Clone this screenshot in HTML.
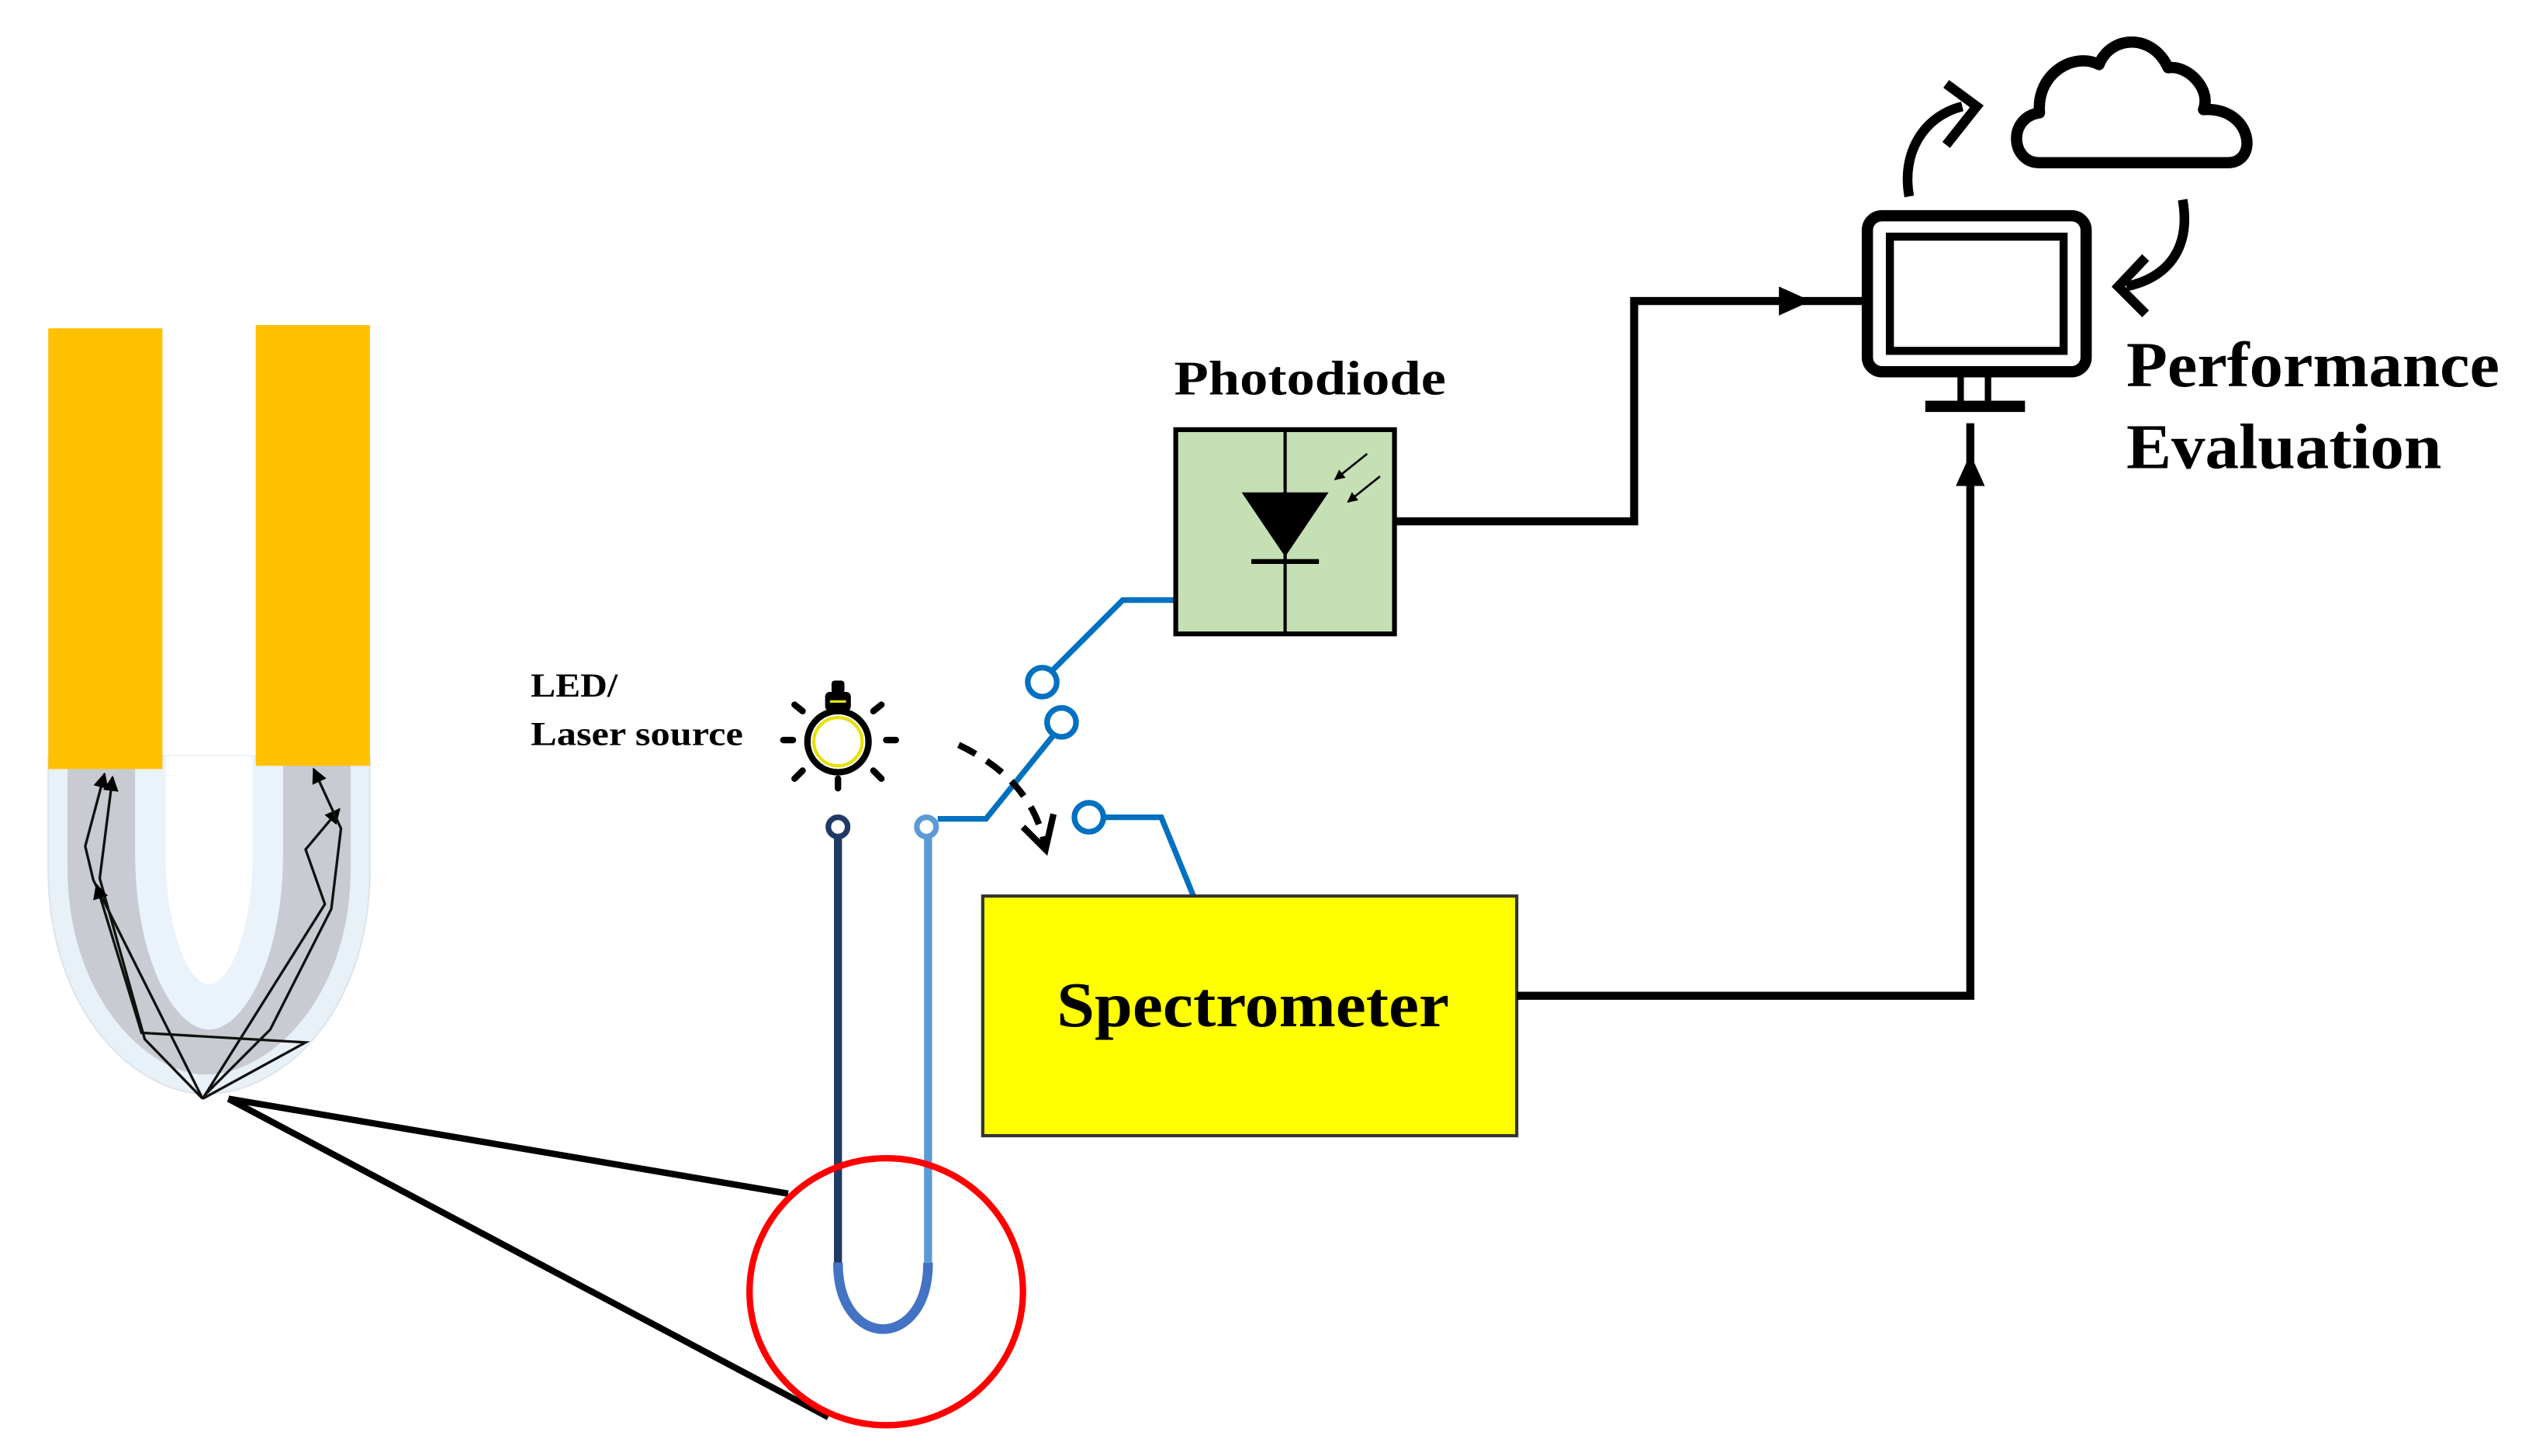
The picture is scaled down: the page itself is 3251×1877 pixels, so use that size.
<!DOCTYPE html>
<html><head><meta charset="utf-8"><style>html,body{margin:0;padding:0;background:#fff}svg{display:block}</style></head>
<body>
<svg width="3251" height="1877" viewBox="0 0 1568 905" xmlns="http://www.w3.org/2000/svg" font-family="Liberation Serif, serif" font-weight="bold">
<defs>
<marker id="a" viewBox="0 0 10 10" refX="9" refY="5" markerWidth="5" markerHeight="5" orient="auto"><path d="M0,0 L10,5 L0,10 z" fill="#000"/></marker>
<marker id="s" viewBox="0 0 10 10" refX="9" refY="5" markerWidth="6" markerHeight="6" orient="auto"><path d="M0,0 L10,5 L0,10 z" fill="#000"/></marker>
</defs>
<!-- U fiber: nested layers -->
<path d="M30,470 L30,540 C30,630 85,680 128,680 C175,680 230,630 230,540 L230,470 Z" fill="#e8f0f8" stroke="#dde4ec"/>
<path d="M42,470 L42,540 C42,620 92,668 128,668 C168,668 218,620 218,540 L218,470 Z" fill="#c8ccd2"/>
<path d="M84,470 L84,530 C84,595 108,640 130,640 C152,640 176,595 176,530 L176,470 Z" fill="#eaf3fc"/>
<path d="M103,470 L103,530 C103,580 118,612 130,612 C142,612 157,580 157,530 L157,470 Z" fill="#ffffff"/>
<rect x="30" y="204" width="71" height="274" fill="#ffc000"/>
<rect x="159" y="202" width="71" height="274" fill="#ffc000"/>
<g stroke="#111" stroke-width="1.6" fill="none" marker-end="url(#s)">
<polyline points="126,683 90,646 62,546 70,483"/>
<polyline points="126,683 58,547 53,526 65,481"/>
<polyline points="126,683 190,648 88,642 60,550"/>
<polyline points="126,683 202,562 190,528 211,503"/>
<polyline points="128,680 168,640 206,565 212,515 195,478"/>
</g>
<!-- zoom lines -->
<line x1="142" y1="683" x2="490" y2="742" stroke="#000" stroke-width="4"/>
<line x1="142" y1="683" x2="515" y2="881" stroke="#000" stroke-width="4"/>
<!-- fiber -->
<line x1="521" y1="520" x2="521" y2="785" stroke="#1f3a66" stroke-width="5"/>
<line x1="577" y1="520" x2="577" y2="785" stroke="#5b9bd5" stroke-width="5"/>
<path d="M521,785 C521,840 577,840 577,785" fill="none" stroke="#4472c4" stroke-width="6"/>
<circle cx="521" cy="514" r="6" fill="#fff" stroke="#1f3a66" stroke-width="3.5"/>
<circle cx="576" cy="514" r="6" fill="#fff" stroke="#5b9bd5" stroke-width="3.5"/>
<ellipse cx="551" cy="803" rx="85" ry="83" fill="none" stroke="#ff0000" stroke-width="4"/>
<!-- LED -->
<g stroke="#000" stroke-width="4" stroke-linecap="round">
<line x1="487" y1="460" x2="493" y2="460"/><line x1="551" y1="460" x2="557" y2="460"/>
<line x1="494" y1="438" x2="499" y2="442"/><line x1="548" y1="438" x2="543" y2="442"/>
<line x1="494" y1="484" x2="499" y2="479"/><line x1="548" y1="484" x2="543" y2="479"/>
<line x1="521" y1="484" x2="521" y2="490"/>
</g>
<circle cx="521" cy="461" r="19" fill="#fff" stroke="#000" stroke-width="4"/>
<circle cx="521" cy="461" r="15" fill="none" stroke="#e8e000" stroke-width="2"/>
<rect x="513" y="430" width="16" height="12" rx="3" fill="#000"/>
<rect x="517" y="423" width="8" height="8" rx="2" fill="#000"/>
<line x1="516" y1="436" x2="526" y2="436" stroke="#ee0" stroke-width="1.5"/>
<text x="330" y="433" font-size="21" textLength="54" lengthAdjust="spacingAndGlyphs">LED/</text>
<text x="330" y="463" font-size="21" textLength="132" lengthAdjust="spacingAndGlyphs">Laser source</text>
<!-- switch -->
<g stroke="#0070c0" stroke-width="3.5" fill="none">
<polyline points="583,509 613,509 655,457"/>
<circle cx="660" cy="449" r="9"/>
<circle cx="648" cy="424" r="9"/>
<polyline points="654,417 698,373 731,373"/>
<circle cx="677" cy="508" r="9"/>
<polyline points="686,508 722,508 742,557"/>
</g>
<path d="M596,463 C625,477 645,497 650,528" fill="none" stroke="#000" stroke-width="4" stroke-dasharray="12,8"/>
<polyline points="636,514 650,528 655,506" fill="none" stroke="#000" stroke-width="4"/>
<!-- photodiode -->
<text x="730" y="245" font-size="30" textLength="169" lengthAdjust="spacingAndGlyphs">Photodiode</text>
<rect x="731" y="267" width="136" height="127" fill="#c5e0b4" stroke="#000" stroke-width="3"/>
<line x1="799" y1="267" x2="799" y2="394" stroke="#000" stroke-width="2"/>
<path d="M772,306 L826,306 L799,346 Z" fill="#000"/>
<line x1="778" y1="349" x2="820" y2="349" stroke="#000" stroke-width="3"/>
<line x1="850" y1="282" x2="830" y2="298" stroke="#000" stroke-width="1.3" marker-end="url(#a)"/>
<line x1="858" y1="296" x2="838" y2="312" stroke="#000" stroke-width="1.3" marker-end="url(#a)"/>
<!-- spectrometer -->
<rect x="611" y="557" width="332" height="149" fill="#ffff00" stroke="#333" stroke-width="2"/>
<text x="657" y="638" font-size="40" textLength="244" lengthAdjust="spacingAndGlyphs">Spectrometer</text>
<!-- connections -->
<polyline points="867,324 1016,324 1016,187 1160,187" fill="none" stroke="#000" stroke-width="5"/>
<path d="M1106,178 L1126,187 L1106,196 Z" fill="#000"/>
<polyline points="943,619 1225,619 1225,263" fill="none" stroke="#000" stroke-width="5"/>
<path d="M1216,302 L1225,282 L1234,302 Z" fill="#000"/>
<!-- monitor -->
<rect x="1161" y="134" width="136" height="97" rx="9" fill="none" stroke="#000" stroke-width="7"/>
<rect x="1175" y="147" width="108" height="71" fill="none" stroke="#000" stroke-width="5"/>
<line x1="1219" y1="233" x2="1219" y2="250" stroke="#000" stroke-width="4"/>
<line x1="1236" y1="233" x2="1236" y2="250" stroke="#000" stroke-width="4"/>
<rect x="1197" y="249" width="62" height="7" fill="#000"/>
<!-- cloud -->
<path d="M1268,101 C1250,101 1248,73 1268,70 C1266,45 1290,32 1305,40 C1312,22 1338,20 1348,42 C1360,40 1375,55 1370,68 C1400,66 1405,101 1385,101 Z" fill="none" stroke="#000" stroke-width="7" stroke-linejoin="round"/>
<!-- curved arrows -->
<path d="M1187,122 C1182,95 1196,72 1220,66" fill="none" stroke="#000" stroke-width="6"/>
<polyline points="1210,52 1229,66 1210,90" fill="none" stroke="#000" stroke-width="6"/>
<path d="M1357,124 C1362,152 1350,172 1322,178" fill="none" stroke="#000" stroke-width="6"/>
<polyline points="1334,160 1317,178 1334,195" fill="none" stroke="#000" stroke-width="6"/>
<text x="1322" y="240" font-size="40" textLength="232" lengthAdjust="spacingAndGlyphs">Performance</text>
<text x="1322" y="291" font-size="40" textLength="196" lengthAdjust="spacingAndGlyphs">Evaluation</text>
</svg>
</body></html>
